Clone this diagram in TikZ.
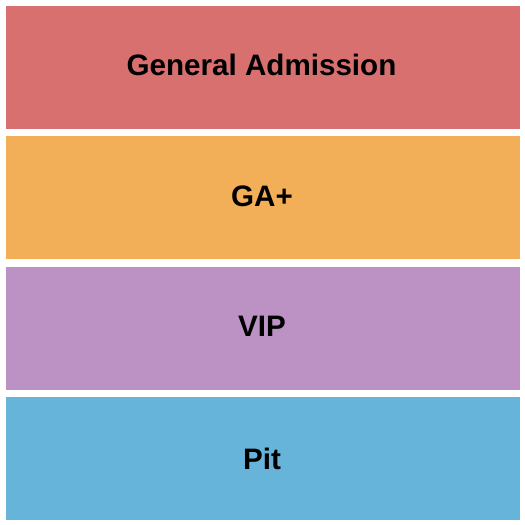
\documentclass[tikz,border=0pt]{standalone}
\usepackage{fontspec}
\setmainfont{Liberation Sans}
\definecolor{cga}{RGB}{216,112,112}
\definecolor{cgap}{RGB}{243,174,88}
\definecolor{cvip}{RGB}{188,145,195}
\definecolor{cpit}{RGB}{102,180,218}
\tikzset{
  sect/.style={draw=none, minimum width=514pt, minimum height=123pt, inner sep=0pt},
  lbl/.style={inner sep=0pt, anchor=base, font=\fontsize{29.6}{32}\selectfont\bfseries, text=black},
}
\begin{document}
\begin{tikzpicture}[x=1pt,y=-1pt]
\useasboundingbox (0,0) rectangle (525,525);
\node[sect, fill=cga]  (ga)  at (263,67.5)  {};
\node[sect, fill=cgap] (gap) at (263,197.5) {};
\node[sect, fill=cvip] (vip) at (263,328.5) {};
\node[sect, fill=cpit] (pit) at (263,458.5) {};
\node[lbl] (tga)  at (261.5,75.5)  {General Admission};
\node[lbl] (tgap) at (262,206)   {GA+};
\node[lbl] (tvip) at (262,336.8) {VIP};
\node[lbl] (tpit) at (262,469.3) {Pit};
\end{tikzpicture}
\end{document}
